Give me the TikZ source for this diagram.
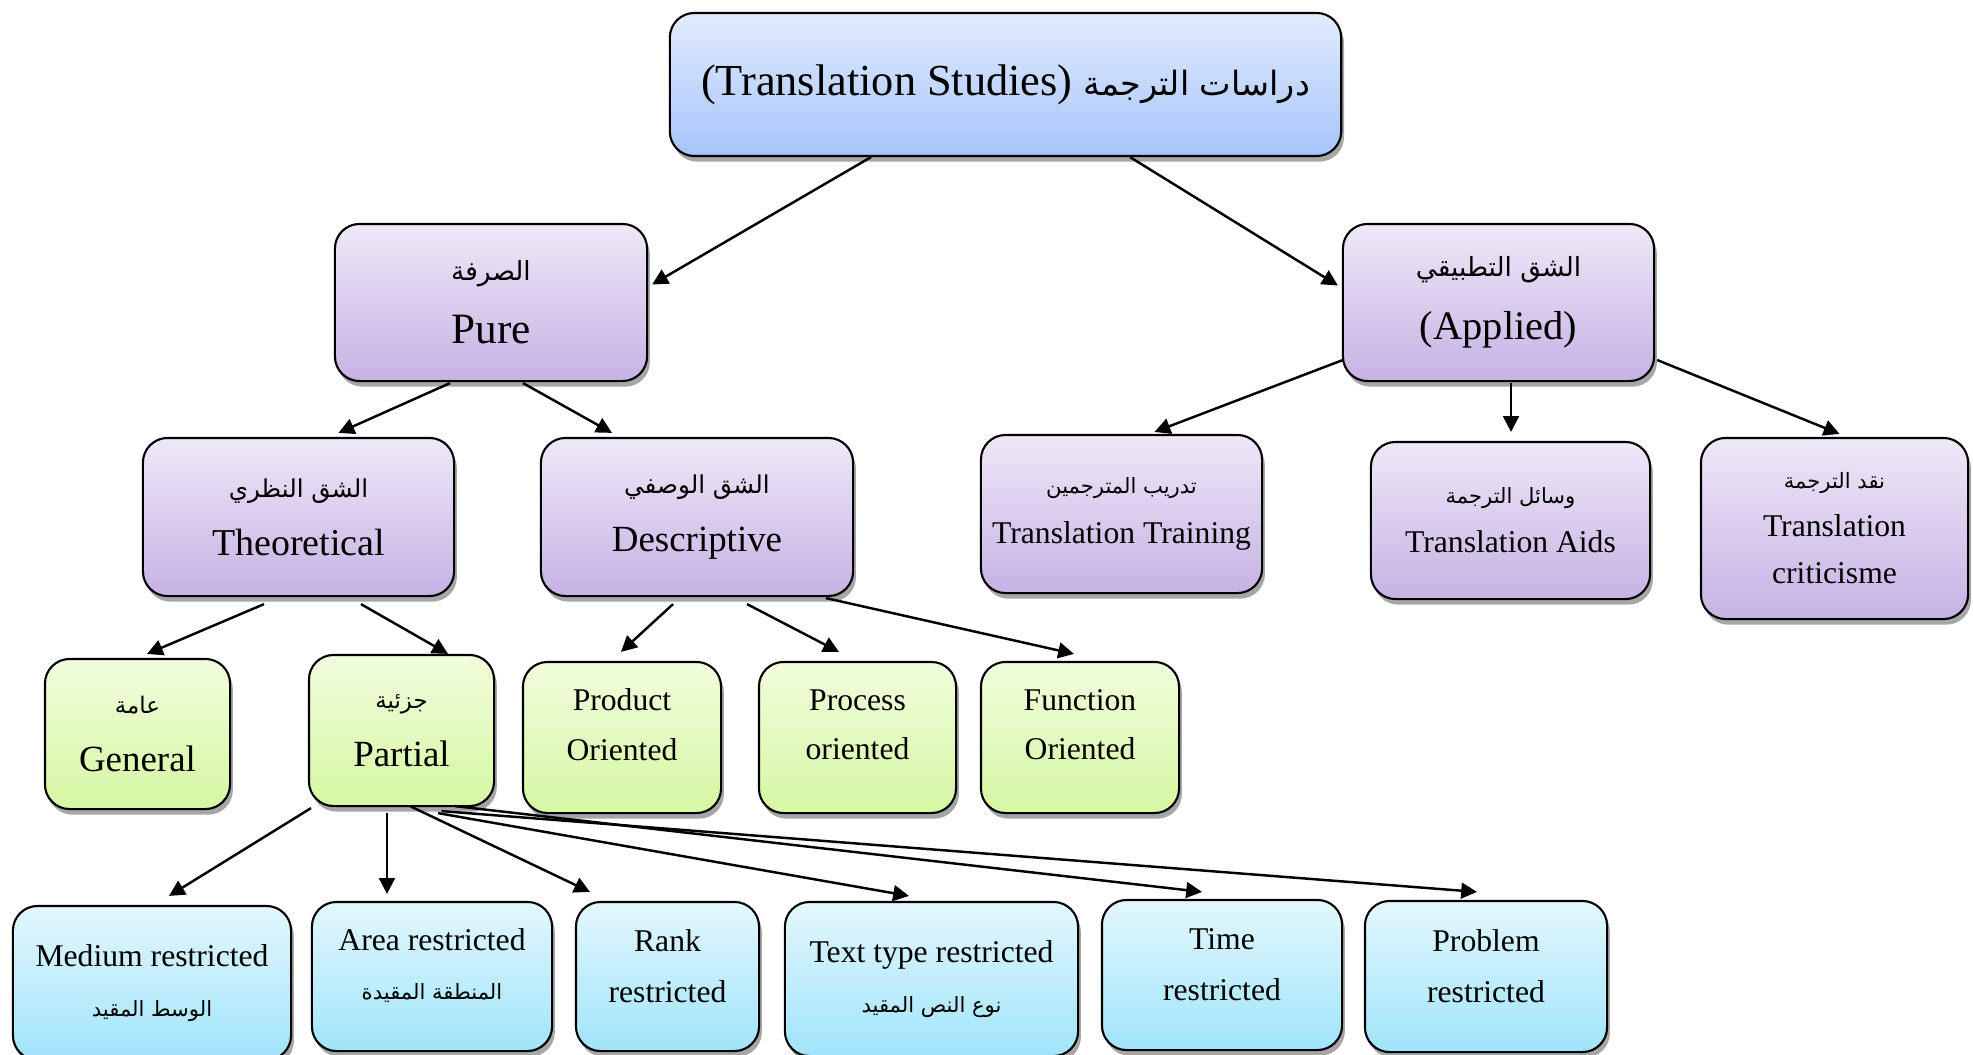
\documentclass[tikz,border=0pt]{standalone}
\usepackage{fontspec}
\setmainfont{Liberation Serif}
\newfontfamily\arabicfont[Script=Arabic]{DejaVu Sans}
\TeXXeTstate=1
\usetikzlibrary{arrows.meta,shadows,calc}
\definecolor{blueA}{HTML}{E2ECFD}
\definecolor{blueB}{HTML}{A6C4FA}
\definecolor{purpA}{HTML}{EEE8F7}
\definecolor{purpB}{HTML}{C6B2E4}
\definecolor{greenA}{HTML}{F1FDDD}
\definecolor{greenB}{HTML}{D5F7A2}
\definecolor{cyanA}{HTML}{E3F7FD}
\definecolor{cyanB}{HTML}{A0E4FA}
\newcommand{\artxt}[2][8]{{\arabicfont\fontsize{#1}{#1}\selectfont\beginR #2\endR}}
\tikzset{
  box/.style={draw=black, line width=0.6pt, rounded corners=7pt, align=center, inner sep=2pt,
    drop shadow={shadow xshift=0.8pt, shadow yshift=-1.6pt, fill=black, opacity=0.35}},
  bluebox/.style={box, top color=blueA, bottom color=blueB},
  purplebox/.style={box, top color=purpA, bottom color=purpB},
  greenbox/.style={box, top color=greenA, bottom color=greenB},
  cyanbox/.style={box, top color=cyanA, bottom color=cyanB},
  arr/.style={-{Triangle[length=4.5pt,width=4.5pt]}, line width=0.7pt}
}
\begin{document}
\begin{tikzpicture}[x=0.01cm, y=-0.01cm]
\useasboundingbox (0,0) rectangle (1973,1054);
\node[bluebox, minimum width=6.71cm, minimum height=1.43cm, font=\fontsize{12.6}{16}\selectfont] (top) at (1005.5,84.5)
    {(Translation Studies) \artxt[9.5]{دراسات الترجمة}};
\node[purplebox, minimum width=3.12cm, minimum height=1.57cm, font=\fontsize{12.3}{18}\selectfont] (pure) at (491,302.5)
    {\artxt[7.5]{الصرفة}\\Pure};
\node[purplebox, minimum width=3.11cm, minimum height=1.57cm, font=\fontsize{11.5}{18}\selectfont] (applied) at (1498.5,302.5)
    {\artxt[7.5]{الشق التطبيقي}\\(Applied)};
\node[purplebox, minimum width=3.11cm, minimum height=1.58cm, font=\fontsize{10.8}{16.5}\selectfont] (theo) at (298.5,517)
    {\artxt[7]{الشق النظري}\\Theoretical};
\node[purplebox, minimum width=3.12cm, minimum height=1.58cm, font=\fontsize{10.5}{16.5}\selectfont] (desc) at (697,517)
    {\artxt[7]{الشق الوصفي}\\Descriptive};
\node[purplebox, minimum width=2.81cm, minimum height=1.58cm, font=\fontsize{9}{14}\selectfont] (train) at (1121.5,514)
    {\artxt[6]{تدريب المترجمين}\\Translation Training};
\node[purplebox, minimum width=2.79cm, minimum height=1.57cm, font=\fontsize{9}{14}\selectfont] (aids) at (1510.5,520.5)
    {\artxt[6]{وسائل الترجمة}\\Translation Aids};
\node[purplebox, minimum width=2.67cm, minimum height=1.81cm, font=\fontsize{9}{13.5}\selectfont] (crit) at (1834.5,528.5)
    {\artxt[6]{نقد الترجمة}\\Translation\\criticisme};
\node[greenbox, minimum width=1.85cm, minimum height=1.50cm, font=\fontsize{10.5}{16.5}\selectfont] (general) at (137.5,734)
    {\artxt[6.5]{عامة}\\General};
\node[greenbox, minimum width=1.85cm, minimum height=1.51cm, font=\fontsize{10.5}{16.5}\selectfont] (partial) at (401.5,730.5)
    {\artxt[6.5]{جزئية}\\Partial};
\node[greenbox, minimum width=1.98cm, minimum height=1.51cm, font=\fontsize{9}{14}\selectfont, text depth=7.4pt] (product) at (622,737.5)
    {Product\\Oriented};
\node[greenbox, minimum width=1.97cm, minimum height=1.51cm, font=\fontsize{9}{14}\selectfont, text depth=7.4pt] (process) at (857.5,737.5)
    {Process\\oriented};
\node[greenbox, minimum width=1.98cm, minimum height=1.51cm, font=\fontsize{9}{14}\selectfont, text depth=7.4pt] (function) at (1080,737.5)
    {Function\\Oriented};
\node[cyanbox, minimum width=2.78cm, minimum height=1.54cm, font=\fontsize{9}{14}\selectfont] (medium) at (152,983)
    {Medium restricted\\\artxt[6]{الوسط المقيد}};
\node[cyanbox, minimum width=2.40cm, minimum height=1.49cm, font=\fontsize{9}{14}\selectfont, text depth=7.3pt] (area) at (432,976.5)
    {Area restricted\\\artxt[6]{المنطقة المقيدة}};
\node[cyanbox, minimum width=1.83cm, minimum height=1.49cm, font=\fontsize{9}{14.5}\selectfont, text depth=5.8pt] (rank) at (667.5,976.5)
    {Rank\\restricted};
\node[cyanbox, minimum width=2.93cm, minimum height=1.54cm, font=\fontsize{9}{14}\selectfont] (texttype) at (931.5,979)
    {Text type restricted\\\artxt[6]{نوع النص المقيد}};
\node[cyanbox, minimum width=2.40cm, minimum height=1.50cm, font=\fontsize{9}{14.5}\selectfont, text depth=5.8pt] (time) at (1222,975)
    {Time\\restricted};
\node[cyanbox, minimum width=2.42cm, minimum height=1.51cm, font=\fontsize{9}{14.5}\selectfont, text depth=5.8pt] (problem) at (1486,976.5)
    {Problem\\restricted};
\draw[arr] ($(top.south)+(-134.5,0)$) -- ($(pure.east)+(4,-18)$);
\draw[arr] ($(top.south)+(124.5,0)$) -- ($(applied.west)+(-4,-17)$);
\draw[arr] ($(pure.south)+(-41,1)$) -- ($(theo.north)+(40,-4)$);
\draw[arr] ($(pure.south)+(32,1)$) -- ($(desc.north)+(-85,-4)$);
\draw[arr] ($(applied.west)+(1,57.5)$) -- ($(train.north)+(33,-2)$);
\draw[arr] ($(applied.south)+(12.5,1)$) -- ($(aids.north)+(0.5,-9)$);
\draw[arr] ($(applied.east)+(2,57.5)$) -- ($(crit.north)+(5,-3)$);
\draw[arr] ($(theo.south)+(-34.5,7)$) -- ($(general.north)+(9.5,-4)$);
\draw[arr] ($(theo.south)+(62.5,7)$) -- ($(partial.north)+(46.5,0)$);
\draw[arr] ($(desc.south)+(-24,7)$) -- ($(product.north)+(-1,-9)$);
\draw[arr] ($(desc.south)+(50,7)$) -- ($(process.north)+(-18.5,-9)$);
\draw[arr] ($(desc.south)+(129,1)$) -- ($(function.north)+(-6,-7)$);
\draw[arr] ($(partial.south)+(-90.5,1)$) -- ($(medium.north)+(17,-9)$);
\draw[arr] ($(partial.south)+(-14.5,6)$) -- ($(area.north)+(-45,-7)$);
\draw[arr] ($(partial.south)+(8.5,-1)$) -- ($(rank.north)+(-77.5,-9)$);
\draw[arr] ($(partial.south)+(36.5,6)$) -- ($(texttype.north)+(-22.5,-5)$);
\draw[arr] ($(partial.south)+(53.5,-1)$) -- ($(time.north)+(-20,-7)$);
\draw[arr] ($(partial.south)+(40,4)$) -- ($(problem.north)+(-9,-8)$);
\end{tikzpicture}
\end{document}
